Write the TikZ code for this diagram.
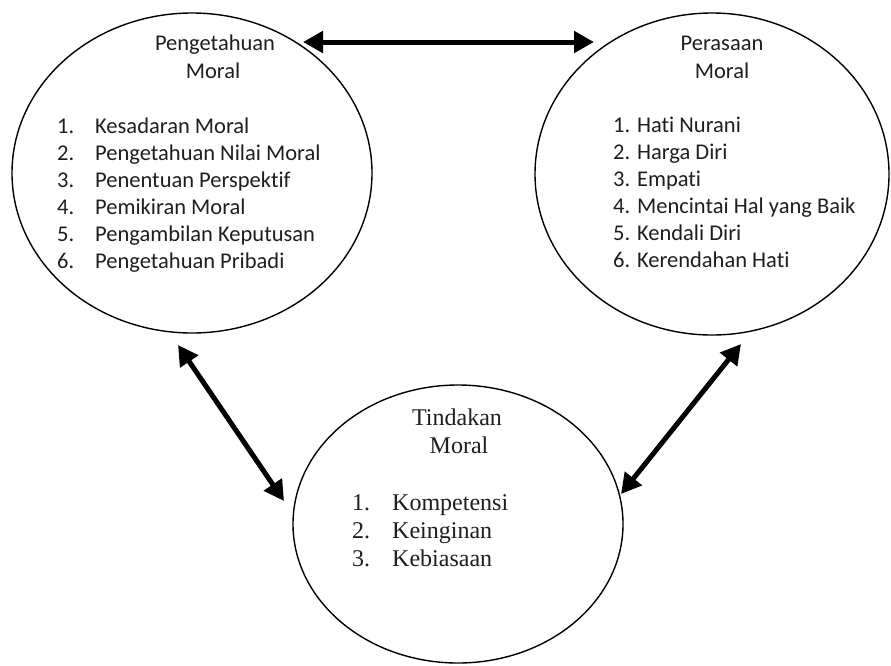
\documentclass[tikz,border=0pt]{standalone}
\usepackage{fontspec}
\setmainfont{Liberation Serif}
\newfontfamily\calfont[Ligatures=NoCommon]{Carlito}
\usetikzlibrary{shapes.geometric,arrows.meta}
\definecolor{ink}{HTML}{1E1E1E}
\tikzset{
  bubble/.style={ellipse, draw=black, line width=1.4pt, inner sep=0pt},
  sanstxt/.style={text=ink, inner sep=0pt, font=\calfont\fontsize{22.5}{27}\selectfont},
  seriftxt/.style={text=ink, inner sep=0pt, font=\fontsize{24}{28}\selectfont},
  biarrow/.style={line width=5pt, black, {Triangle[length=20pt,width=21pt]}-{Triangle[length=20pt,width=21pt]}}
}
\begin{document}
\begin{tikzpicture}[x=1pt,y=-1pt]
\useasboundingbox (0,0) rectangle (891,665);
% ellipses
\node[bubble, minimum width=360pt, minimum height=320pt] (L) at (192,173) {};
\node[bubble, minimum width=354pt, minimum height=322pt] (R) at (712,174) {};
\node[bubble, minimum width=330pt, minimum height=278pt] (B) at (458,524) {};
% left texts
\node[sanstxt, anchor=base] (Lt1) at (215,50) {Pengetahuan};
\node[sanstxt, anchor=base] (Lt2) at (213,78) {Moral};
\foreach \n/\t [count=\i from 0] in {1/Kesadaran Moral,2/Pengetahuan Nilai Moral,3/Penentuan Perspektif,4/Pemikiran Moral,5/Pengambilan Keputusan,6/Pengetahuan Pribadi}{
  \node[sanstxt, anchor=base west] (Ln\n) at (57,133+27*\i) {\n.};
  \node[sanstxt, anchor=base west] (Li\n) at (95,133+27*\i) {\t};
}
% right texts
\node[sanstxt, anchor=base] (Rt1) at (722,50) {Perasaan};
\node[sanstxt, anchor=base] (Rt2) at (722,78) {Moral};
\foreach \t [count=\i from 0] in {1. Hati Nurani,2. Harga Diri,3. Empati,4. Mencintai Hal yang Baik,5. Kendali Diri,6. Kerendahan Hati}{
  \node[sanstxt, anchor=base west] (Ri\i) at (613,132+27*\i) {\t};
}
% bottom texts
\node[seriftxt, anchor=base] (Bt1) at (457,425) {Tindakan};
\node[seriftxt, anchor=base] (Bt2) at (459,453) {Moral};
\foreach \n/\t [count=\i from 0] in {1/Kompetensi,2/Keinginan,3/Kebiasaan}{
  \node[seriftxt, anchor=base west] (Bn\n) at (352,510+28*\i) {\n.};
  \node[seriftxt, anchor=base west] (Bi\n) at (392,510+28*\i) {\t};
}
% arrow ends
\coordinate (aL) at (303,42);
\coordinate (aR) at (594,42);
\coordinate (bL1) at (178,345);
\coordinate (bL2) at (284,501);
\coordinate (bR1) at (741,344);
\coordinate (bR2) at (621,494);
\draw[biarrow] (aL) -- (aR);
\draw[biarrow] (bL1) -- (bL2);
\draw[biarrow] (bR1) -- (bR2);
\end{tikzpicture}
\end{document}
